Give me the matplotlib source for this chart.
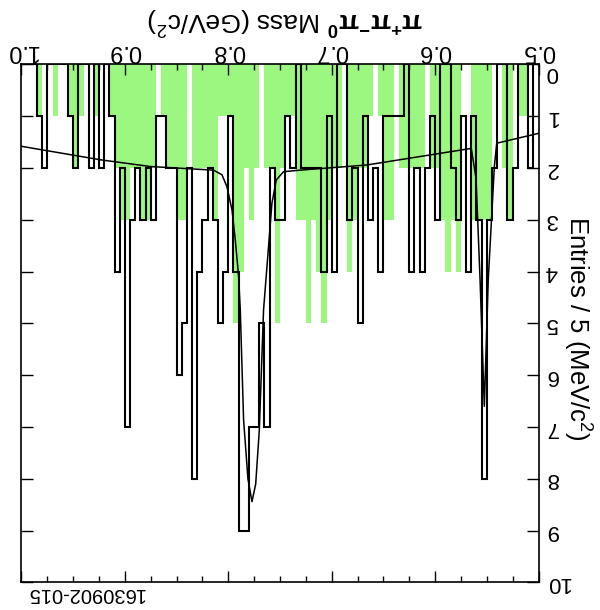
import matplotlib.pyplot as plt
import matplotlib.transforms as mtransforms
import numpy as np

# entries per 5 MeV bin, read from 1.0 GeV down to 0.5 GeV
data_counts = [0, 0, 0, 1, 2, 0, 0, 0, 0, 1,
               2, 0, 0, 2, 0, 2, 0, 1, 4, 2,
               7, 3, 2, 3, 2, 3, 1, 1, 2, 2,
               6, 5, 2, 8, 4, 3, 2, 3, 5, 4,
               1, 4, 9, 9, 7, 7, 5, 7, 2, 3,
               3, 1, 2, 0, 2, 2, 2, 2, 4, 1,
               4, 0, 0, 3, 2, 5, 1, 3, 2, 4,
               1, 1, 1, 1, 0, 4, 2, 4, 2, 1,
               3, 0, 0, 2, 3, 1, 4, 1, 3, 8,
               3, 2, 0, 0, 3, 2, 0, 0, 2, 0]

# green (sideband) histogram, same binning and order
side_counts = [0, 0, 0, 1, 0, 0, 1, 0, 0, 1,
               2, 1, 0, 0, 1, 0, 0, 1, 2, 3,
               3, 2, 2, 3, 3, 2, 0, 1, 2, 2,
               3, 3, 0, 2, 2, 2, 2, 3, 1, 1,
               1, 5, 4, 2, 3, 2, 0, 2, 2, 5,
               2, 1, 1, 3, 3, 5, 3, 4, 5, 3,
               2, 2, 0, 4, 3, 2, 2, 1, 0, 1,
               3, 3, 0, 2, 2, 2, 2, 2, 0, 2,
               2, 3, 4, 3, 4, 0, 0, 3, 3, 3,
               3, 0, 0, 2, 3, 0, 1, 1, 0, 0]

# fit curve, points
fit_mass = [0.500, 0.5404, 0.5427, 0.5486, 0.5524, 0.5565, 0.5604, 0.5650,
            0.666, 0.7304, 0.7466, 0.7536, 0.7578, 0.7611, 0.7659, 0.7700,
            0.7735, 0.7771, 0.7810, 0.7852, 0.7884, 0.7900, 0.7932, 0.7964,
            0.8013, 0.8061, 0.8142, 0.8754, 0.9237, 1.000]
fit_value = [1.33, 1.52, 1.97, 4.16, 6.60, 4.16, 2.20, 1.62,
             1.94, 2.04, 2.07, 2.23, 2.68, 3.52, 4.74, 7.06,
             8.10, 8.44, 8.00, 6.86, 4.74, 4.10, 3.39, 2.81,
             2.36, 2.13, 2.04, 1.97, 1.84, 1.58]

mass_edges = np.linspace(0.5, 1.0, 101)
data = np.array(data_counts)[::-1]
side = np.array(side_counts)[::-1]

plt.rcParams['font.family'] = ['Liberation Sans', 'DejaVu Sans']
plt.rcParams['mathtext.fontset'] = 'custom'
plt.rcParams['mathtext.rm'] = 'Liberation Sans'
plt.rcParams['mathtext.it'] = 'Liberation Sans:italic'
plt.rcParams['mathtext.bf'] = 'Liberation Sans:bold'

fig = plt.figure(figsize=(6, 6.1), dpi=100)
ax = fig.add_axes([0.0358, 0.0451, 0.8617, 0.8492])

ax.stairs(side, mass_edges, fill=True, color='#9cf781', lw=0)
ax.stairs(data, mass_edges, color='black', lw=1.5)
ax.plot(fit_mass, fit_value, color='black', lw=1.1)

# the whole picture is turned upside down
ax.set_xlim(1.0, 0.5)
ax.set_ylim(10, 0)

ax.set_xticks(np.arange(0.5, 1.01, 0.1))
ax.set_xticks(np.arange(0.5, 1.001, 0.025), minor=True)
ax.set_xticklabels(['0.5', '0.6', '0.7', '0.8', '0.9', '1.0'])
ax.set_yticks(range(0, 11))

ax.tick_params(axis='x', which='both', direction='in', top=True, bottom=True,
               labeltop=True, labelbottom=False, labelsize=17, pad=2)
ax.tick_params(axis='x', which='major', length=8, width=1)
ax.tick_params(axis='x', which='minor', length=4.5, width=1)
ax.tick_params(axis='y', direction='in', left=True, right=True,
               labelleft=False, labelright=True, labelsize=16,
               length=8.5, width=1, pad=5)
for lab in ax.get_xticklabels() + ax.get_yticklabels():
    lab.set_rotation(180)
for lab in ax.get_yticklabels():
    lab.set_va('center')
# the "0" sits a little lower so it clears the 0.5 label
first = ax.get_yticklabels()[0]
first.set_transform(first.get_transform() +
                    mtransforms.ScaledTranslation(0, -8 / 100, fig.dpi_scale_trans))

for sp in ax.spines.values():
    sp.set_linewidth(1.2)

fig.text(0.476, 1 - 20 / 610, r'$\mathbf{\pi^{+}\pi^{-}\pi^{0}}$ Mass (GeV/c$^{2}$)',
         rotation=180, ha='center', va='center', fontsize=19)
fig.text(577 / 600, 1 - 328 / 610, r'Entries / 5 (MeV/c$^{2}$)',
         rotation=270, ha='center', va='center', fontsize=18.5)
fig.text(85 / 600, 1 - 593 / 610, '1630902-015', rotation=180,
         ha='center', va='center', fontsize=14.5)

fig.savefig('out.png', dpi=100)
